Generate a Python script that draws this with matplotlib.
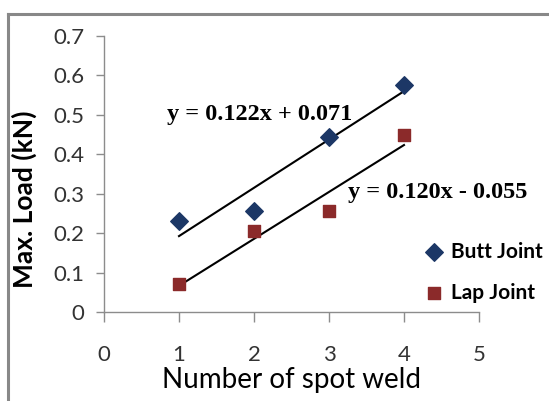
"""
Max. load vs number of spot welds, butt and lap joints, with linear trendlines.
"""
import matplotlib
matplotlib.use('Agg')
import matplotlib.pyplot as plt
import numpy as np
from matplotlib.lines import Line2D

spot_welds = [1, 2, 3, 4]
butt_load = [0.23, 0.255, 0.445, 0.575]
lap_load = [0.07, 0.205, 0.255, 0.45]
x_ticks = [0, 1, 2, 3, 4, 5]
y_ticks = [0, 0.1, 0.2, 0.3, 0.4, 0.5, 0.6, 0.7]
y_tick_labels = ['0', '0.1', '0.2', '0.3', '0.4', '0.5', '0.6', '0.7']
butt_eq = 'y = 0.122x + 0.071'
lap_eq = 'y = 0.120x - 0.055'

BUTT_COLOR = '#1c3766'
LAP_COLOR = '#8b2a2a'
AXIS_COLOR = '#8c8c8c'
SANS = ['Lato', 'DejaVu Sans']

fig = plt.figure(figsize=(5.49, 4.01), dpi=100)
# outer frame, cut off at right and bottom
fx, fy = 8 / 549, 1 - 14 / 401
fig.add_artist(Line2D([fx, fx], [0, fy], transform=fig.transFigure,
                      color='#888888', linewidth=2.2))
fig.add_artist(Line2D([fx, 1], [fy, fy], transform=fig.transFigure,
                      color='#888888', linewidth=2.2))

ax = fig.add_axes([104 / 549, 1 - 312 / 401, 375 / 549, 276 / 401])

ax.scatter(spot_welds, butt_load, marker='D', s=80, color=BUTT_COLOR,
           label='Butt Joint', zorder=3)
ax.scatter(spot_welds, lap_load, marker='s', s=65, color=LAP_COLOR,
           label='Lap Joint', zorder=3)

# linear trendlines
xs = np.array([spot_welds[0], spot_welds[-1]])
for vals in (butt_load, lap_load):
    m, b = np.polyfit(spot_welds, vals, 1)
    ax.plot(xs, m * xs + b, color='black', linewidth=1.5, zorder=2)

ax.text(0.84, 0.502, butt_eq, fontsize=17.5, fontweight='bold',
        family='Liberation Serif', va='center', ha='left')
ax.text(3.25, 0.302, lap_eq, fontsize=17.5, fontweight='bold',
        family='Liberation Serif', va='center', ha='left')

ax.set_xlim(0, 5)
ax.set_ylim(0, 0.7)
ax.set_xticks(x_ticks)
ax.set_xticklabels([str(t) for t in x_ticks], family=SANS, fontsize=16, color='#333333')
ax.set_yticks(y_ticks)
ax.set_yticklabels(y_tick_labels, family=SANS, fontsize=16, color='#333333')
ax.tick_params(axis='x', length=7, width=1, color=AXIS_COLOR, pad=17)
ax.tick_params(axis='y', length=6, width=1, color=AXIS_COLOR, pad=8)

for side in ('top', 'right'):
    ax.spines[side].set_visible(False)
for side in ('left', 'bottom'):
    ax.spines[side].set_color(AXIS_COLOR)
    ax.spines[side].set_linewidth(1)

ax.set_xlabel('Number of spot weld', family=SANS, fontsize=20, labelpad=1)
ax.set_ylabel('Max. Load (kN)', family=SANS, fontsize=19, fontweight='bold')
ax.yaxis.set_label_coords(-0.18, 0.41)

leg = ax.legend(loc='upper left', bbox_to_anchor=(0.83, 0.285), frameon=False,
                prop={'family': SANS, 'size': 15, 'weight': 'bold'},
                handletextpad=0.3, handlelength=1.0, labelspacing=1.0,
                borderaxespad=0)

fig.savefig('out.png', dpi=100)
